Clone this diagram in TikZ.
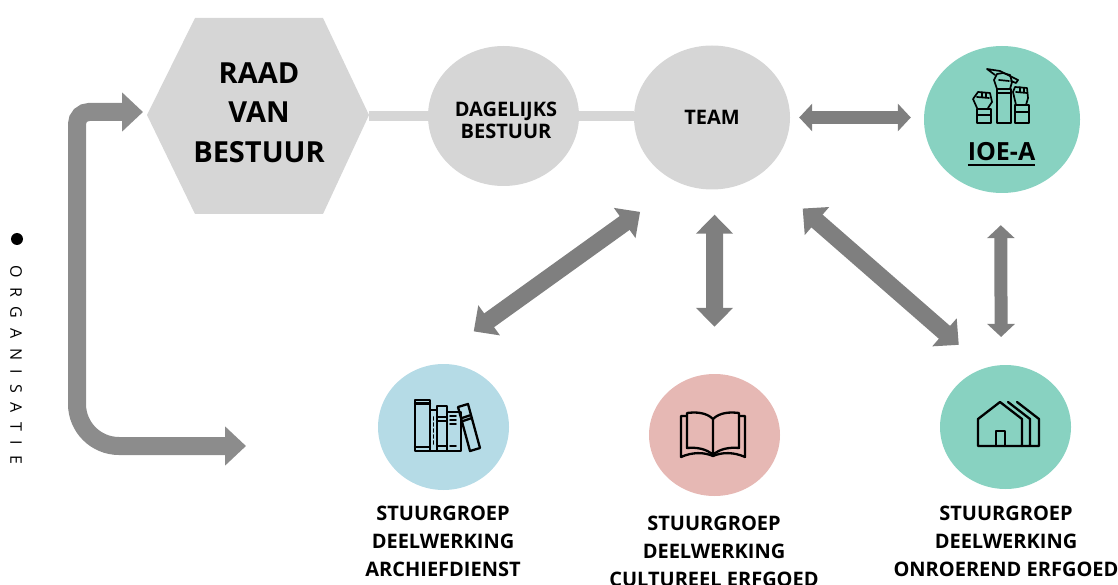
\documentclass[tikz,border=0pt]{standalone}
\usepackage{fontspec}
\setmainfont{Open Sans}
\usetikzlibrary{arrows.meta,shapes.geometric}
\definecolor{grijs}{HTML}{D6D6D6}
\definecolor{pijlgrijs}{HTML}{7F7F7F}
\definecolor{boog}{HTML}{8C8C8C}
\definecolor{groen}{HTML}{88D2C1}
\definecolor{blauw}{HTML}{B5DBE6}
\definecolor{roze}{HTML}{E6B8B4}
\newcommand{\dikonder}[1]{\vtop{\hbox{#1}\kern 3pt\hrule height 2pt}}
\tikzset{
  bol/.style={ellipse,inner sep=0pt,font=\bfseries\fontsize{20}{22}\selectfont,align=center},
  groot/.style={font=\bfseries\fontsize{29}{39.5}\selectfont,align=center,inner sep=0pt},
  onder/.style={font=\bfseries\fontsize{20}{28}\selectfont,align=center,inner sep=0pt},
  verbind/.style={grijs,line width=10pt},
  dikpijl/.style={pijlgrijs,line width=17pt,{Triangle[width=36pt,length=19pt]}-{Triangle[width=36pt,length=19pt]}},
  dunpijl/.style={pijlgrijs,line width=13pt,{Triangle[width=27pt,length=13pt]}-{Triangle[width=27pt,length=13pt]}},
  zijpijl/.style={boog,line width=18pt,-{Triangle[width=38pt,length=21pt]}},
  icoon/.style={black,line width=2.3pt,line join=round,line cap=round},
  fijn/.style={icoon,line width=1.7pt}
}
\begin{document}
\begin{tikzpicture}[x=1pt,y=-1pt]
  \useasboundingbox (0,0) rectangle (1118,585);
  % bestuur
  \fill[grijs] (147,115) -- (195,18) -- (323,18) -- (369,115) -- (323,214) -- (195,214) -- cycle;
  \coordinate (raadhoek) at (369,116);
  \node[groot] (raad) at (259,112.5) {RAAD\\VAN\\BESTUUR};
  \node[bol,fill=grijs,minimum width=151pt,minimum height=140pt] (dagelijks) at (503.5,116) {};
  \node[bol] (dagelijkslabel) at (506,120) {DAGELIJKS\\BESTUUR};
  \node[bol,fill=grijs,minimum width=156pt,minimum height=144pt] (team) at (712,117.5) {TEAM};
  \node[bol,fill=groen,minimum width=156pt,minimum height=147pt] (ioe) at (1002,119.5) {};
  \node[font=\bfseries\fontsize{25}{25}\selectfont,inner sep=0pt,anchor=base] (ioelabel) at (1001.5,161) {\dikonder{IOE-A}};
  % deelwerkingen
  \node[bol,fill=blauw,minimum width=131pt,minimum height=126pt] (archief) at (443.5,427) {};
  \node[bol,fill=roze,minimum width=131pt,minimum height=122pt] (cultuur) at (714.5,435) {};
  \node[bol,fill=groen,minimum width=131pt,minimum height=124pt] (onroerend) at (1005.5,427) {};
  \node[onder] (archieflabel) at (443,541.5) {STUURGROEP\\DEELWERKING\\ARCHIEFDIENST};
  \node[onder] (cultuurlabel) at (714,551.5) {STUURGROEP\\DEELWERKING\\CULTUREEL ERFGOED};
  \node[onder] (onroerendlabel) at (1006,541.5) {STUURGROEP\\DEELWERKING\\ONROEREND ERFGOED};
  % zijkant
  \node[circle,fill=black,minimum size=12pt,inner sep=0pt] (punt) at (17,239) {};
  \node[rotate=-90,anchor=west,inner sep=0pt,font=\fontsize{16}{16}\selectfont] (organisatie) at (16,265) {\spaceskip 9.7pt O R G A N I S A T I E};
  \coordinate (midden) at (77,291);
  \coordinate (raadpunt) at (143,112);
  \coordinate (onderpunt) at (246,446);
  % verbindingen
  \draw[verbind] (raadhoek) -- (dagelijks);
  \draw[verbind] (dagelijks) -- (dagelijks -| team.west);
  \draw[zijpijl,rounded corners=12pt] (midden) |- (raadpunt);
  \draw[zijpijl,rounded corners=42pt] (midden) |- (onderpunt);
  \draw[dunpijl,shorten <=9pt,shorten >=13pt] (team.east) -- (team.east -| ioe.west);
  \draw[dikpijl,shorten <=49pt,shorten >=60pt] (team.244) -- (archief.107);
  \draw[dikpijl,shorten <=25pt,shorten >=47pt] (team.272) -- (cultuur.north);
  \draw[dikpijl,shorten <=54pt,shorten >=35pt] (team.-48.4) -- (onroerend.109.6);
  \draw[dunpijl,shorten <=32pt,shorten >=28pt] (ioe.269) -- (onroerend.94);
  % icoon vuisten
  \draw[fijn] (977,109) rectangle (991,123) (977,115) -- (991,115);
  \draw[fijn] (997,89) rectangle (1011,123) (997,93) -- (1011,93);
  \draw[fijn] (1015,105) rectangle (1029,123) (1015,112) -- (1029,112);
  \draw[fijn] (977,108) -- (973,99) -- (978,92) -- (990,93) -- (992,102) -- (988,108)
    (977,97) -- (989,98) (982,92) -- (982,97) (986,93) -- (986,97);
  \draw[fijn] (1016,105) -- (1013,92) -- (1015,87) -- (1027,88) -- (1028,98) -- (1026,105)
    (1016,92) -- (1027,93) (1020,87) -- (1020,92) (1024,88) -- (1024,92);
  \draw[fijn] (987,69) -- (1000,71) -- (1018,80) -- (1016,83) -- (1011,81) (987,69) -- (995,75);
  \draw[fijn] (997,89) -- (994,80) -- (997,74) -- (1003,73) -- (1010,75) -- (1012,82) -- (1010,89)
    (999,80) -- (1009,81);
  % icoon boeken
  \draw[icoon] (415,400) rectangle (430,451) (415,403.5) -- (430,403.5) (415,447) -- (430,447);
  \draw[icoon] (430,410) rectangle (437,451);
  \draw[fijn,dash pattern=on 3pt off 3pt] (433.5,417) -- (433.5,446);
  \draw[icoon] (437,406) rectangle (447,451) (437,417) -- (447,417) (437,421) -- (447,421) (437,446) -- (447,446);
  \draw[icoon] (447,412) rectangle (461,451);
  \draw[fijn] (450,416) -- (456,416) (450,420) -- (456,420) (450,424) -- (456,424) (450,446) -- (456,446);
  \draw[icoon] (458,407) -- (468,404) -- (480,448) -- (470,451) -- cycle (462,418) -- (471,415) (463,421) -- (472,418);
  % icoon open boek
  \draw[icoon] (687,416) -- (681,416) -- (681,457) .. controls (692,452) and (704,452) .. (713,456) .. controls (722,452) and (734,452) .. (745,457) -- (745,416) -- (739,416);
  \draw[icoon] (713,419) .. controls (706,412) and (695,412) .. (687,413) -- (687,448) .. controls (697,447) and (707,449) .. (713,455)
    .. controls (719,449) and (729,447) .. (739,448) -- (739,413) .. controls (731,412) and (720,412) .. (713,419) -- (713,455);
  % icoon huizen
  \draw[icoon] (978,419) -- (1000,402) -- (1022,419) -- (1022,446) -- (978,446) -- cycle;
  \draw[icoon] (996,446) -- (996,431) -- (1005,431) -- (1005,446);
  \draw[icoon] (1008,402) -- (1030,419) -- (1030,446) (1017,402) -- (1039,419) -- (1039,446) -- (1022,446);
\end{tikzpicture}
\end{document}
